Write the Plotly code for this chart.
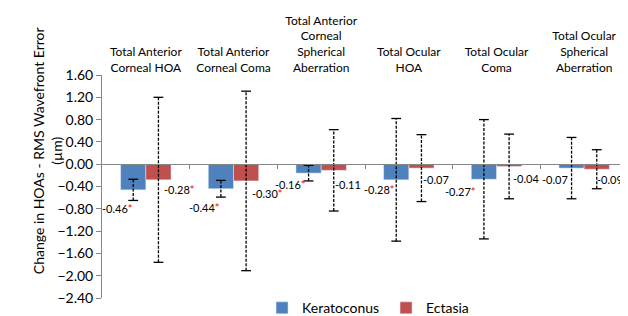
import plotly.graph_objects as go

categories = [
    "Total Anterior<br>Corneal HOA",
    "Total Anterior<br>Corneal Coma",
    "Total Anterior<br>Corneal<br>Spherical<br>Aberration",
    "Total Ocular<br>HOA",
    "Total Ocular<br>Coma",
    "Total Ocular<br>Spherical<br>Aberration",
]
keratoconus = [-0.46, -0.44, -0.16, -0.28, -0.27, -0.07]
ectasia = [-0.28, -0.30, -0.11, -0.07, -0.04, -0.09]
keratoconus_sd = [0.19, 0.15, 0.14, 1.10, 1.07, 0.55]
ectasia_sd = [1.48, 1.61, 0.73, 0.60, 0.58, 0.35]
keratoconus_sig = [True, True, True, True, True, False]
ectasia_sig = [True, True, False, False, False, False]
y_ticks = [1.6, 1.2, 0.8, 0.4, 0.0, -0.4, -0.8, -1.2, -1.6, -2.0, -2.4]

# label pixel offsets (style)
k_shift = [(-16, -19), (-16, -19), (-18, -11), (-17, -10), (-23, -12), (-17, -11)]
e_shift = [(21, -10), (21, -13), (14, -14), (15, -11), (17, -12), (13, -10)]

FONT = "Lato"
BLUE = "#4F81BD"
RED = "#C0504D"
GRAY = "#868686"

idx = list(range(len(categories)))
bargap = 0.425
half = (1 - bargap) / 4

fig = go.Figure()
fig.add_bar(x=idx, y=keratoconus, name="Keratoconus", marker_color=BLUE)
fig.add_bar(x=idx, y=ectasia, name="Ectasia", marker_color=RED)


def err_traces(vals, sds, off):
    xs, ys, cx, cy = [], [], [], []
    for i, v, s in zip(idx, vals, sds):
        x = i + off
        xs += [x, x, None]
        ys += [v - s, v + s, None]
        cx += [x, x]
        cy += [v - s, v + s]
    fig.add_scatter(x=xs, y=ys, mode="lines", xaxis="x2", showlegend=False,
                    line=dict(color="black", width=1.3, dash="3px,1.5px"), hoverinfo="skip")
    fig.add_scatter(x=cx, y=cy, mode="markers", xaxis="x2", showlegend=False,
                    marker=dict(symbol="line-ew", size=7, line=dict(color="black", width=1.3)),
                    hoverinfo="skip")


err_traces(keratoconus, keratoconus_sd, -half)
err_traces(ectasia, ectasia_sd, half)

annotations = []
for vals, sig, shifts, off in [(keratoconus, keratoconus_sig, k_shift, -half),
                               (ectasia, ectasia_sig, e_shift, half)]:
    for i, v, s, (dx, dy) in zip(idx, vals, sig, shifts):
        txt = f"{v:.2f}" + ("<span style='color:#FF0000'>*</span>" if s else "")
        annotations.append(dict(x=i + off, y=v, xref="x", yref="y", text=txt, showarrow=False,
                                xshift=dx, yshift=dy, font=dict(family=FONT, size=11, color="black")))

annotations.append(dict(x=-0.141, y=0.66, xref="paper", yref="paper", textangle=-90,
                        text="Change in HOAs - RMS Wavefront Error<br>(µm)", showarrow=False,
                        font=dict(family=FONT, size=14, color="black")))

fig.update_layout(
    width=620, height=308,
    margin=dict(l=94, r=0, t=67, b=18, autoexpand=False),
    paper_bgcolor="white", plot_bgcolor="white",
    barmode="group", bargap=bargap, bargroupgap=0,
    font=dict(family=FONT, color="black"),
    xaxis=dict(side="top", range=[-0.5, 5.5], tickvals=idx, ticktext=categories,
               showline=False, ticks="", showgrid=False, zeroline=False, automargin=False,
               tickfont=dict(family=FONT, size=12, color="black")),
    xaxis2=dict(overlaying="x", anchor="free", position=0.6, range=[-0.5, 5.5],
                showline=True, linecolor=GRAY, linewidth=1, ticks="outside", ticklen=4,
                tickcolor=GRAY, tickvals=[i + 0.5 for i in idx], showticklabels=False,
                showgrid=False, zeroline=False, automargin=False),
    yaxis=dict(range=[-2.4, 1.6], tickvals=y_ticks, tickformat=".2f", showgrid=False,
               zeroline=False, showline=True, linecolor=GRAY, ticks="outside", ticklen=5,
               tickcolor=GRAY, automargin=False, tickfont=dict(family=FONT, size=14, color="black")),
    legend=dict(orientation="h", x=0.540, xanchor="center", y=-0.046, yanchor="middle",
                font=dict(family=FONT, size=14, color="black"), itemwidth=30,
                entrywidth=79, tracegroupgap=0),
    annotations=annotations,
    showlegend=True,
)

fig.write_html("out.html")
